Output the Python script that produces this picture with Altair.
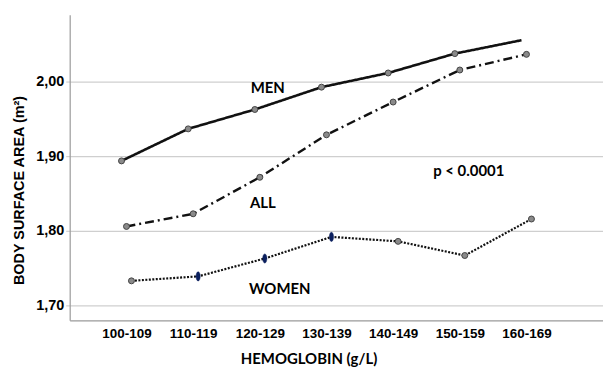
import altair as alt
import pandas as pd

hb_groups = ["100-109", "110-119", "120-129", "130-139", "140-149", "150-159", "160-169"]
men = [1.894, 1.937, 1.963, 1.993, 2.012, 2.038, 2.056]
all_ = [1.806, 1.823, 1.872, 1.929, 1.973, 2.016, 2.037]
women = [1.733, 1.739, 1.763, 1.792, 1.786, 1.767, 1.816]
men_marker = ["gray", "gray", "gray", "gray", "gray", "gray", "none"]
all_marker = ["gray"] * 7
women_marker = ["gray", "navy", "navy", "navy", "gray", "gray", "gray"]

y_ticks = [1.70, 1.80, 1.90, 2.00]

ann_text = ["MEN", "ALL", "WOMEN", "p < 0.0001"]
ann_hb = ["120-129", "120-129", "120-129", "150-159"]
ann_value = [1.992, 1.837, 1.722, 1.881]
ann_dx = [8, 3, 20, 9]

series_order = ["MEN", "ALL", "WOMEN"]

rows = []
for name, vals, marks in [("MEN", men, men_marker), ("ALL", all_, all_marker), ("WOMEN", women, women_marker)]:
    for g, v, m in zip(hb_groups, vals, marks):
        rows.append({"hb": g, "series": name, "value": v, "marker": m})
df = pd.DataFrame(rows)
ann = pd.DataFrame({"text": ann_text, "hb": ann_hb, "value": ann_value, "dx": ann_dx})

xscale = alt.Scale(type="point", domain=hb_groups, padding=1.02, align=0.426)
yscale = alt.Scale(domain=[1.68, 2.09], nice=False, zero=False)
offscale = alt.Scale(type="point", domain=series_order, range=[-5, 5], padding=0)

x_enc = alt.X(
    "hb:N", sort=hb_groups, scale=xscale,
    axis=alt.Axis(
        title="HEMOGLOBIN (g/L)", labelAngle=0, ticks=False, grid=False,
        labelFont="Liberation Sans", labelFontSize=13.5, labelFontWeight="bold", labelColor="#000",
        labelPadding=6, titleFont="Lato", titleFontSize=15, titleFontWeight="bold", titleColor="#000",
        titlePadding=12, titleX=240, domainColor="#9a9a9a", domainWidth=1.2,
    ),
)
y_enc = alt.Y(
    "value:Q", scale=yscale,
    axis=alt.Axis(
        title="BODY SURFACE AREA (m²)", values=y_ticks,
        labelExpr="replace(format(datum.value, '.2f'), '.', ',')",
        labelFont="Liberation Sans", labelFontSize=14.5, labelFontWeight="bold", labelColor="#000",
        labelPadding=2, tickSize=4, tickColor="#c8c8c8",
        gridColor="#cfcfcf", gridWidth=1.2,
        titleFont="Liberation Sans", titleFontSize=14.5, titleFontWeight="bold", titleColor="#000",
        titlePadding=9, titleY=176, domainColor="#9a9a9a", domainWidth=1.2,
    ),
)
xo = alt.XOffset("series:N", scale=offscale)

base = alt.Chart(df)
lines = base.mark_line(color="#111").encode(
    x=x_enc, y=y_enc, xOffset=xo,
    strokeDash=alt.StrokeDash("series:N", scale=alt.Scale(domain=series_order, range=[[1, 0], [9, 4, 2, 4], [2, 1.5]]), legend=None),
    strokeWidth=alt.StrokeWidth("series:N", scale=alt.Scale(domain=series_order, range=[2.6, 2.2, 2.6]), legend=None),
    detail="series:N",
)
gray_pts = base.transform_filter("datum.marker == 'gray'").mark_point(
    filled=True, fill="#8a8a8a", stroke="#444", strokeWidth=1, size=36, opacity=1
).encode(x=alt.X("hb:N", sort=hb_groups, scale=xscale), y=alt.Y("value:Q", scale=yscale), xOffset=xo)
navy_pts = base.transform_filter("datum.marker == 'navy'").mark_point(
    filled=True, fill="#0b1f5e", stroke="#0b1f5e", strokeWidth=0.5, size=85, opacity=1,
    shape="M0,-1A0.45,1 0 1,1 0,1A0.45,1 0 1,1 0,-1Z",
).encode(x=alt.X("hb:N", sort=hb_groups, scale=xscale), y=alt.Y("value:Q", scale=yscale), xOffset=xo)

texts = []
for i in range(len(ann_text)):
    texts.append(
        alt.Chart(ann.iloc[[i]]).mark_text(
            font="Lato", fontSize=15, fontWeight="bold", color="#000", dx=ann_dx[i]
        ).encode(x=alt.X("hb:N", sort=hb_groups, scale=xscale), y=alt.Y("value:Q", scale=yscale), text="text:N")
    )

chart = alt.layer(lines, gray_pts, navy_pts, *texts).properties(
    width=536, height=307, padding={"left": 3, "top": 6, "right": 0, "bottom": 0}
).configure_view(stroke=None)

chart.save("out.html", embed_options={"renderer": "svg", "actions": False})
